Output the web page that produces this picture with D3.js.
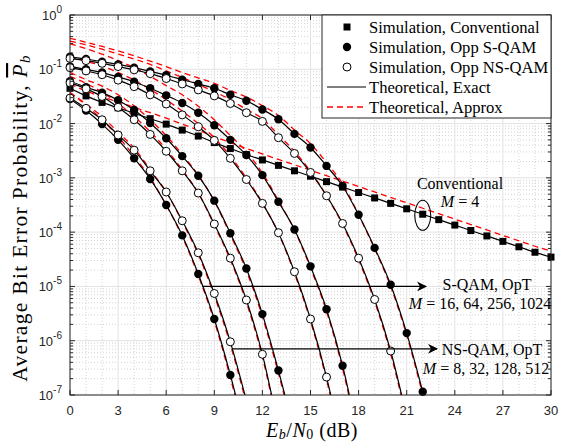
<!DOCTYPE html>
<html lang="en">
<head>
<meta charset="UTF-8">
<script src="https://d3js.org/d3.v7.min.js"></script>
<title>BER</title>
<style>
  html,body{margin:0;padding:0;background:#fff;}
  #chart svg{display:block;}
  .tick-lbl{font-family:"Liberation Sans",Arial,sans-serif;font-size:13px;fill:#262626;}
  .tex{font-family:"Liberation Serif","Times New Roman",serif;fill:#000;}
</style>
</head>
<body>
<div id="chart"></div>
<script>
// Eb/N0 in dB, one value per marker position
var ebn0 = [0,1,2,3,4,5,6,7,8,9,10,11,12,13,14,15,16,17,18,19,20,21,22,23,24,25,26,27,28,29,30];

// log10 of the error probability (index = dB)
var convExact  = [-1.35,-1.49,-1.61,-1.71,-1.81,-1.91,-2.01,-2.12,-2.23,-2.35,-2.46,-2.57,-2.67,-2.77,-2.87,-2.97,-3.07,-3.17,-3.27,-3.37,-3.47,-3.57,-3.67,-3.77,-3.87,-3.97,-4.07,-4.17,-4.27,-4.37,-4.46];
var convApprox = [-1.27,-1.40,-1.51,-1.60,-1.70,-1.80,-1.90,-2.01,-2.12,-2.24,-2.35,-2.46,-2.56,-2.66,-2.76,-2.86,-2.96,-3.06,-3.16,-3.26,-3.36,-3.46,-3.56,-3.66,-3.76,-3.86,-3.96,-4.06,-4.16,-4.26,-4.35];

var sq16Exact   = [-1.55,-1.76,-2.01,-2.30,-2.64,-3.02,-3.50,-4.06,-4.77,-5.60,-6.63,-7.80];
var sq16Approx  = [-1.43,-1.66,-1.93,-2.24,-2.60,-3.00,-3.50,-4.08,-4.80,-5.64,-6.68,-7.86];
var sq64Exact   = [-1.22,-1.33,-1.43,-1.57,-1.75,-1.99,-2.27,-2.60,-2.96,-3.42,-4.02,-4.67,-5.51,-6.55,-7.70];
var sq64Approx  = [-1.06,-1.19,-1.31,-1.47,-1.67,-1.93,-2.22,-2.57,-2.95,-3.43,-4.05,-4.71,-5.56,-6.60,-7.76];
var sq256Exact  = [-0.95,-1.00,-1.06,-1.14,-1.23,-1.35,-1.48,-1.62,-1.80,-2.03,-2.30,-2.58,-2.95,-3.44,-3.95,-4.63,-5.42,-6.46,-7.80];
var sq256Approx = [-0.53,-0.62,-0.72,-0.84,-0.97,-1.13,-1.30,-1.47,-1.68,-1.93,-2.22,-2.52,-2.91,-3.42,-3.96,-4.66,-5.46,-6.51,-7.86];
var sq1024Exact = [-0.77,-0.81,-0.86,-0.91,-0.97,-1.04,-1.11,-1.19,-1.27,-1.35,-1.47,-1.58,-1.74,-1.92,-2.19,-2.44,-2.78,-3.15,-3.68,-4.29,-4.97,-5.86,-6.94,-8.10];
var sq1024Approx= [-0.43,-0.50,-0.58,-0.66,-0.75,-0.85,-0.95,-1.06,-1.16,-1.26,-1.39,-1.51,-1.67,-1.85,-2.12,-2.37,-2.72,-3.11,-3.68,-4.31,-5.00,-5.90,-6.99,-8.16];

var ns8Exact    = [-1.53,-1.72,-1.93,-2.21,-2.49,-2.87,-3.26,-3.79,-4.38,-5.13,-6.02,-7.10];
var ns8Approx   = [-1.43,-1.64,-1.87,-2.16,-2.45,-2.85,-3.26,-3.81,-4.41,-5.17,-6.07,-7.16];
var ns32Exact   = [-1.25,-1.36,-1.50,-1.70,-1.93,-2.20,-2.51,-2.87,-3.28,-3.85,-4.48,-5.25,-6.25,-7.60];
var ns32Approx  = [-1.13,-1.26,-1.42,-1.63,-1.87,-2.15,-2.47,-2.85,-3.28,-3.87,-4.51,-5.29,-6.30,-7.66];
var ns128Exact  = [-0.97,-1.03,-1.10,-1.20,-1.32,-1.47,-1.64,-1.84,-2.06,-2.31,-2.64,-3.03,-3.47,-4.01,-4.73,-5.60,-6.67,-8.00];
var ns128Approx = [-0.77,-0.85,-0.94,-1.06,-1.20,-1.37,-1.56,-1.77,-2.00,-2.26,-2.60,-3.00,-3.46,-4.02,-4.76,-5.64,-6.72,-8.06];
var ns512Exact  = [-0.80,-0.84,-0.89,-0.95,-1.01,-1.08,-1.17,-1.27,-1.38,-1.49,-1.63,-1.80,-1.96,-2.26,-2.55,-2.90,-3.33,-3.84,-4.48,-5.24,-6.19,-7.40];
var ns512Approx = [-0.48,-0.55,-0.63,-0.72,-0.81,-0.91,-1.03,-1.15,-1.28,-1.41,-1.56,-1.74,-1.91,-2.21,-2.51,-2.88,-3.33,-3.86,-4.51,-5.28,-6.24,-7.46];

var xTicks = [0,3,6,9,12,15,18,21,24,27,30];
var yExps  = [0,-1,-2,-3,-4,-5,-6,-7];
var legendLabels = ["Simulation, Conventional","Simulation, Opp S-QAM","Simulation, Opp NS-QAM","Theoretical, Exact","Theoretical, Approx"];

var width = 561, height = 445;
var x0 = 70, x1 = 551, y0 = 15, y1 = 395;

var svg = d3.select("#chart").append("svg")
  .attr("width", width)
  .attr("height", height);

var x = d3.scaleLinear().domain([0,30]).range([x0,x1]);
var y = d3.scaleLog().domain([1e-7,1]).range([y1,y0]);
function yv(v){ return y(Math.pow(10,v)); }

svg.append("defs").append("clipPath").attr("id","clip")
  .append("rect").attr("x",x0).attr("y",y0).attr("width",x1-x0).attr("height",y1-y0);

// grid
var grid = svg.append("g");
d3.range(0,31).filter(function(d){ return d%3 !== 0; }).forEach(function(d){
  grid.append("line").attr("x1",x(d)).attr("x2",x(d)).attr("y1",y0).attr("y2",y1)
    .attr("stroke","#c8c8c8").attr("stroke-width",0.8).attr("stroke-dasharray","1,2");
});
yExps.forEach(function(k){
  if (k === 0) return;
  for (var m = 2; m <= 9; m++){
    var yy = y(m*Math.pow(10,k));
    grid.append("line").attr("x1",x0).attr("x2",x1).attr("y1",yy).attr("y2",yy)
      .attr("stroke","#c8c8c8").attr("stroke-width",0.8).attr("stroke-dasharray","1,2");
  }
});
xTicks.forEach(function(t){
  grid.append("line").attr("x1",x(t)).attr("x2",x(t)).attr("y1",y0).attr("y2",y1)
    .attr("stroke","#e3e3e3").attr("stroke-width",1);
});
yExps.forEach(function(k){
  grid.append("line").attr("x1",x0).attr("x2",x1).attr("y1",y(Math.pow(10,k))).attr("y2",y(Math.pow(10,k)))
    .attr("stroke","#e3e3e3").attr("stroke-width",1);
});

// curves
var plot = svg.append("g").attr("clip-path","url(#clip)");
var line = d3.line()
  .x(function(d,i){ return x(ebn0[i]); })
  .y(function(d){ return yv(d); })
  .curve(d3.curveMonotoneX);

var approxList = [convApprox,sq16Approx,sq64Approx,sq256Approx,sq1024Approx,ns8Approx,ns32Approx,ns128Approx,ns512Approx];
var exactList  = [convExact,sq16Exact,sq64Exact,sq256Exact,sq1024Exact,ns8Exact,ns32Exact,ns128Exact,ns512Exact];

plot.selectAll("path.approx").data(approxList).enter().append("path")
  .attr("class","approx").attr("d",line).attr("fill","none")
  .attr("stroke","#ff0000").attr("stroke-width",1.3).attr("stroke-dasharray","6,4");
plot.selectAll("path.exact").data(exactList).enter().append("path")
  .attr("class","exact").attr("d",line).attr("fill","none")
  .attr("stroke","#000").attr("stroke-width",1.2);

function pts(arr){
  return arr.map(function(v,i){ return {x:ebn0[i], v:v}; }).filter(function(p){ return p.v >= -7.0; });
}
var mk = svg.append("g");
[convExact].forEach(function(arr){
  mk.selectAll(null).data(pts(arr)).enter().append("rect")
    .attr("x",function(p){ return x(p.x)-3.5; }).attr("y",function(p){ return yv(p.v)-3.5; })
    .attr("width",7).attr("height",7).attr("fill","#000");
});
[sq16Exact,sq64Exact,sq256Exact,sq1024Exact].forEach(function(arr){
  mk.selectAll(null).data(pts(arr)).enter().append("circle")
    .attr("cx",function(p){ return x(p.x); }).attr("cy",function(p){ return yv(p.v); })
    .attr("r",4.2).attr("fill","#000");
});
[ns8Exact,ns32Exact,ns128Exact,ns512Exact].forEach(function(arr){
  mk.selectAll(null).data(pts(arr)).enter().append("circle")
    .attr("cx",function(p){ return x(p.x); }).attr("cy",function(p){ return yv(p.v); })
    .attr("r",4).attr("fill","#fff").attr("stroke","#000").attr("stroke-width",1);
});

// box and ticks
var ax = svg.append("g").attr("stroke","#262626").attr("fill","none");
ax.append("rect").attr("x",x0).attr("y",y0).attr("width",x1-x0).attr("height",y1-y0).attr("stroke-width",1);
xTicks.forEach(function(t){
  ax.append("line").attr("x1",x(t)).attr("x2",x(t)).attr("y1",y1).attr("y2",y1-5);
  ax.append("line").attr("x1",x(t)).attr("x2",x(t)).attr("y1",y0).attr("y2",y0+5);
});
yExps.forEach(function(k){
  var yy = y(Math.pow(10,k));
  ax.append("line").attr("x1",x0).attr("x2",x0+5).attr("y1",yy).attr("y2",yy);
  ax.append("line").attr("x1",x1).attr("x2",x1-5).attr("y1",yy).attr("y2",yy);
  if (k === 0) return;
  for (var m = 2; m <= 9; m++){
    var ym = y(m*Math.pow(10,k));
    ax.append("line").attr("x1",x0).attr("x2",x0+3).attr("y1",ym).attr("y2",ym);
    ax.append("line").attr("x1",x1).attr("x2",x1-3).attr("y1",ym).attr("y2",ym);
  }
});

// tick labels
svg.selectAll("text.xt").data(xTicks).enter().append("text")
  .attr("class","tick-lbl").attr("x",function(d){ return x(d); }).attr("y",y1+20)
  .attr("text-anchor","middle").text(function(d){ return d; });
yExps.forEach(function(k){
  var t = svg.append("text").attr("class","tick-lbl").attr("x",x0-8).attr("y",y(Math.pow(10,k))+5)
    .attr("text-anchor","end");
  t.append("tspan").text("10");
  t.append("tspan").attr("dy",-7).attr("font-size","10px").text(String(k));
});

// axis titles
var xl = svg.append("text").attr("class","tex").attr("x",312).attr("y",437)
  .attr("text-anchor","middle").attr("font-size","20px").attr("letter-spacing","0.5px");
xl.append("tspan").attr("font-style","italic").text("E");
xl.append("tspan").attr("font-style","italic").attr("font-size","14px").attr("dy",2).text("b");
xl.append("tspan").attr("dy",-2).text("/");
xl.append("tspan").attr("font-style","italic").text("N");
xl.append("tspan").attr("font-size","14px").attr("dy",2).text("0");
xl.append("tspan").attr("dy",-2).text(" (dB)");

var yl = svg.append("text").attr("class","tex").attr("transform","translate(27,218) rotate(-90)")
  .attr("text-anchor","middle").attr("font-size","21.5px").attr("letter-spacing","1.3px");
yl.append("tspan").text("Average Bit Error Probability, ");
yl.append("tspan").attr("font-style","italic").attr("text-decoration","overline").text("P");
yl.append("tspan").attr("font-style","italic").attr("font-size","15px").attr("dy",3).text("b");

// legend
var lg = svg.append("g");
lg.append("rect").attr("x",322).attr("y",y0).attr("width",x1-322).attr("height",103)
  .attr("fill","#fff").attr("stroke","#262626").attr("stroke-width",1);
var rowY = function(i){ return 27 + i*20; };
lg.append("rect").attr("x",343.5).attr("y",rowY(0)-3.5).attr("width",7).attr("height",7).attr("fill","#000");
lg.append("circle").attr("cx",347).attr("cy",rowY(1)).attr("r",4.2).attr("fill","#000");
lg.append("circle").attr("cx",347).attr("cy",rowY(2)).attr("r",4).attr("fill","#fff").attr("stroke","#000");
lg.append("line").attr("x1",327).attr("x2",366).attr("y1",rowY(3)).attr("y2",rowY(3)).attr("stroke","#000").attr("stroke-width",1.2);
lg.append("line").attr("x1",327).attr("x2",366).attr("y1",rowY(4)).attr("y2",rowY(4)).attr("stroke","#ff0000").attr("stroke-width",1.3).attr("stroke-dasharray","6,4");
lg.selectAll("text").data(legendLabels).enter().append("text").attr("class","tex")
  .attr("x",369).attr("y",function(d,i){ return rowY(i)+5.5; }).attr("font-size","16.6px").text(function(d){ return d; });

// annotations
var an = svg.append("g");
an.append("ellipse").attr("cx",x(22)).attr("cy",yv(-3.69)).attr("rx",8).attr("ry",15)
  .attr("fill","none").attr("stroke","#000").attr("stroke-width",1.1);
an.append("text").attr("class","tex").attr("x",460).attr("y",189).attr("text-anchor","middle").attr("font-size","16px").text("Conventional");
var m4 = an.append("text").attr("class","tex").attr("x",460).attr("y",207).attr("text-anchor","middle").attr("font-size","16px");
m4.append("tspan").attr("font-style","italic").text("M");
m4.append("tspan").text(" = 4");

svg.append("defs").append("marker").attr("id","arr").attr("viewBox","0 0 10 10")
  .attr("refX",9).attr("refY",5).attr("markerWidth",10).attr("markerHeight",10).attr("markerUnits","userSpaceOnUse")
  .attr("orient","auto").append("path").attr("d","M0,0 L10,5 L0,10 L3,5 z").attr("fill","#000");

an.append("line").attr("x1",x(8.25)).attr("x2",426).attr("y1",y(1e-5)).attr("y2",y(1e-5))
  .attr("stroke","#000").attr("stroke-width",1.2).attr("marker-end","url(#arr)");
an.append("line").attr("x1",x(10.15)).attr("x2",437).attr("y1",yv(-6.15)).attr("y2",yv(-6.15))
  .attr("stroke","#000").attr("stroke-width",1.2).attr("marker-end","url(#arr)");

an.append("text").attr("class","tex").attr("x",487).attr("y",290).attr("text-anchor","middle").attr("font-size","16px").text("S-QAM, OpT");
var ms = an.append("text").attr("class","tex").attr("x",480).attr("y",309).attr("text-anchor","middle").attr("font-size","16px");
ms.append("tspan").attr("font-style","italic").text("M");
ms.append("tspan").text(" = 16, 64, 256, 1024");
an.append("text").attr("class","tex").attr("x",492).attr("y",355).attr("text-anchor","middle").attr("font-size","16px").text("NS-QAM, OpT");
var mn = an.append("text").attr("class","tex").attr("x",486).attr("y",374).attr("text-anchor","middle").attr("font-size","16px");
mn.append("tspan").attr("font-style","italic").text("M");
mn.append("tspan").text(" = 8, 32, 128, 512");
</script>
</body>
</html>
